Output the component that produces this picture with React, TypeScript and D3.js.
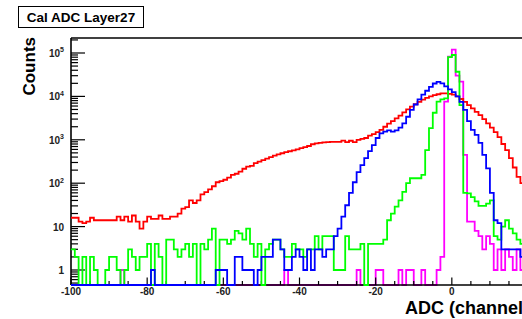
import React from 'react';
import * as d3 from 'd3';

const BIN_START = -100;
const BIN_WIDTH = 1;

const red = [
  16, 16, 13, 12, 13, 16, 14, 14, 14, 14,
  14, 14, 17, 14, 17, 13, 18, 13, 9, 13,
  17, 15, 15, 18, 15, 15, 17, 17, 20, 26,
  28, 40, 35, 40, 55, 62, 72, 85, 105, 112,
  120, 135, 155, 165, 185, 215, 240, 250, 290, 315,
  340, 370, 400, 430, 460, 490, 520, 545, 570, 600,
  640, 680, 720, 790, 830, 850, 870, 880, 900, 900,
  900, 960, 880, 950, 880, 1000, 1050, 1100, 1250, 1350,
  1500, 1700, 2000, 2350, 2700, 3100, 3600, 4300, 5000, 5800,
  6600, 7500, 8400, 9200, 10000, 10700, 11200, 11700, 11700, 11400,
  11000, 10000, 8700, 7500, 6300, 5300, 4400, 3700, 3000, 2400,
  1900, 1500, 1150, 800, 580, 380, 230, 140, 100, 80,
];

const green = [
  3, 2, 0, 2, 0, 2, 1, 0, 0, 1,
  2, 2, 1, 0, 1, 3, 2, 1, 2, 2,
  4, 0, 4, 2, 0, 5, 5, 3, 2, 3,
  4, 2, 4, 0, 4, 3, 5, 9, 0, 5,
  5, 4, 5, 8, 7, 5, 9, 4, 2, 4,
  0, 3, 4, 5, 5, 3, 2, 2, 4, 3,
  3, 2, 3, 3, 6, 3, 6, 6, 6, 1,
  1, 1, 6, 3, 3, 3, 4, 0, 4, 4,
  4, 4, 5, 14, 20, 29, 40, 63, 100, 130,
  130, 130, 155, 580, 1860, 4200, 7600, 8500, 9000, 80000,
  90000, 37000, 6300, 60, 58, 48, 38, 30, 30, 34,
  40, 6, 5, 10, 14, 9, 7, 5, 4, 4,
];

const blue = [
  0, 0, 0, 0, 0, 0, 0, 0, 0, 0,
  0, 0, 0, 0, 0, 0, 0, 0, 0, 0,
  0, 1, 0, 0, 0, 0, 0, 0, 0, 0,
  0, 0, 0, 0, 0, 0, 0, 0, 1, 1,
  1, 0, 0, 2, 2, 1, 1, 1, 0, 1,
  2, 2, 2, 5, 5, 3, 1, 1, 2, 3,
  2, 1, 3, 1, 3, 3, 2, 3, 3, 6,
  9, 17, 31, 60, 105, 180, 260, 380, 550, 750,
  1100, 1400, 1550, 1650, 1550, 1650, 1900, 2400, 3400, 4900,
  6500, 8500, 11000, 13500, 16500, 19800, 21700, 20000, 17000, 14500,
  12500, 10000, 7500, 4900, 2700, 1700, 1300, 850, 450, 220,
  60, 14, 12, 3, 3, 3, 3, 3, 2, 2,
];

const magenta = [
  0, 0, 0, 0, 0, 0, 0, 0, 0, 0,
  0, 0, 0, 1, 0, 0, 0, 0, 0, 0,
  0, 0, 0, 0, 0, 0, 0, 0, 0, 0,
  0, 0, 0, 0, 0, 0, 0, 0, 0, 0,
  0, 0, 0, 0, 0, 0, 0, 0, 0, 0,
  0, 0, 0, 0, 0, 0, 1, 0, 0, 0,
  0, 0, 0, 0, 0, 0, 0, 0, 0, 0,
  0, 0, 0, 0, 0, 1, 0, 0, 0, 0,
  1, 1, 0, 0, 0, 0, 1, 0, 1, 1,
  0, 0, 1, 0, 0, 0, 1, 2, 7600, 82000,
  120000, 30000, 22000, 450, 13, 13, 8, 6, 3, 6,
  4, 1, 3, 1, 3, 2, 1, 3, 1, 2,
];

const xMajorTicks = [-100, -80, -60, -40, -20, 0, 20];
const xTickLabels = ['-100', '-80', '-60', '-40', '-20', '0'];
const yDecades = [1, 10, 100, 1000, 10000, 100000];
const yExponents = ['0', '1', '2', '3', '4', '5'];

const FONT = "'Liberation Sans', Arial, Helvetica, sans-serif";

export default function App() {
  const W = 522, H = 319;
  const left = 71, right = 528, top = 38, bottom = 285;
  const x = d3.scaleLinear().domain([-100, 20]).range([left, right]);
  const y = d3.scaleLog().domain([0.451, 2.216e5]).range([bottom, top]);

  const histPath = (vals: number[]) => {
    let d = '';
    vals.forEach((v, i) => {
      const x0 = x(BIN_START + i * BIN_WIDTH);
      const x1 = x(BIN_START + (i + 1) * BIN_WIDTH);
      const yy = v > 0 ? y(v) : bottom;
      if (i === 0) d += `M${x0},${yy}`;
      else d += `V${yy}`;
      d += `H${x1}`;
    });
    return d;
  };

  const xMinor: number[] = [];
  for (let v = -100; v <= 20; v += 5) if (v % 20 !== 0) xMinor.push(v);

  const yMinor: number[] = [];
  const [ymin, ymax] = y.domain();
  for (let e = -1; e <= 5; e++) {
    for (let k = 2; k <= 9; k++) {
      const v = k * Math.pow(10, e);
      if (v >= ymin && v <= ymax) yMinor.push(v);
    }
  }

  const histStyle = { fill: 'none', strokeWidth: 1.8 } as const;

  return (
    <svg width={W} height={H} style={{ position: 'absolute', left: 0, top: 0, background: '#fff' }}
      fontFamily={FONT}>
      <defs>
        <clipPath id="frame">
          <rect x={left} y={top - 1} width={right - left} height={bottom - top + 2} />
        </clipPath>
      </defs>
      <rect x={0} y={0} width={W} height={H} fill="#fff" />

      {/* title box */}
      <rect x={18.5} y={6.5} width={125} height={21} fill="#fff" stroke="#000" strokeWidth={1} />
      <text x={81} y={21.5} textAnchor="middle" fontSize={13.5} fontWeight="bold">Cal ADC Layer27</text>

      <g clipPath="url(#frame)">
        <path d={histPath(magenta)} stroke="#ff00ff" {...histStyle} />
      </g>

      {/* frame and axes */}
      <g stroke="#000" fill="none">
        <line x1={left} x2={right} y1={top} y2={top} strokeWidth={1.6} />
        <line x1={left} x2={left} y1={top} y2={bottom} strokeWidth={1.6} />
        <line x1={left} x2={right} y1={bottom} y2={bottom} strokeWidth={1.6} />
        <line x1={right} x2={right} y1={top} y2={bottom} strokeWidth={1.6} />
        {xMajorTicks.map((v) => (
          <line key={'xM' + v} x1={x(v)} x2={x(v)} y1={bottom} y2={bottom - 7.5} strokeWidth={1.2} />
        ))}
        {xMinor.map((v) => (
          <line key={'xm' + v} x1={x(v)} x2={x(v)} y1={bottom} y2={bottom - 4} strokeWidth={1.2} />
        ))}
        {yDecades.map((v) => (
          <line key={'yM' + v} x1={left} x2={left + 14} y1={y(v)} y2={y(v)} strokeWidth={1.2} />
        ))}
        {yMinor.map((v) => (
          <line key={'ym' + v} x1={left} x2={left + 7} y1={y(v)} y2={y(v)} strokeWidth={1.2} />
        ))}
      </g>

      <g clipPath="url(#frame)">
        <path d={histPath(red)} stroke="#ff0000" {...histStyle} />
        <path d={histPath(green)} stroke="#00ff00" {...histStyle} />
        <path d={histPath(blue)} stroke="#0000ff" {...histStyle} />
      </g>

      {/* x tick labels */}
      {xTickLabels.map((lab, i) => (
        <text key={'xl' + lab} x={x(xMajorTicks[i])} y={294.5} textAnchor="middle" fontSize={10} fontWeight="bold" fill="#222">
          {lab}
        </text>
      ))}

      {/* y tick labels */}
      {yDecades.map((v, i) => (
        <text key={'yl' + v} x={64} y={y(v) + 4} textAnchor="end" fontSize={10} fontWeight="bold" fill="#222">
          {i === 0 ? '1' : i === 1 ? '10' : (
            <>
              <tspan>10</tspan>
              <tspan dy={-4.5} fontSize={7}>{yExponents[i]}</tspan>
            </>
          )}
        </text>
      ))}

      {/* axis titles */}
      <text transform="translate(35,37) rotate(-90)" textAnchor="end" fontSize={17} fontWeight="bold">Counts</text>
      <text x={405} y={314} textAnchor="start" fontSize={18} fontWeight="bold">ADC (channels)</text>
    </svg>
  );
}
